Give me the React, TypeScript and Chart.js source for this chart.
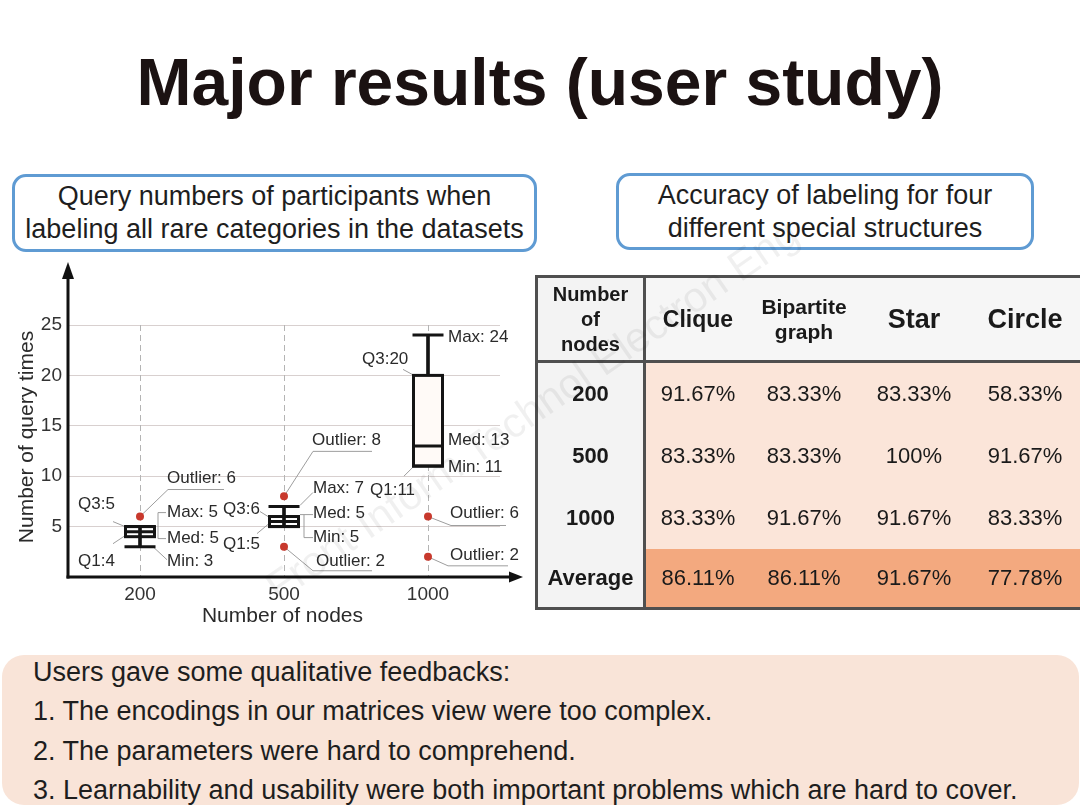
import React, { useEffect, useRef } from 'react';
import { Chart, registerables } from 'chart.js';

Chart.register(...registerables);

const FONT = '"Liberation Sans", Arial, Helvetica, sans-serif';

// ---------- Box plot data (number of query times) ----------
const categories = ['200', '500', '1000'];
const q1Values = [4, 5, 11];
const q3Values = [5, 6, 20];
const medianValues = [4.5, 5.5, 13];
const minValues = [3, 5, 11];
const maxValues = [5, 7, 24];
const outlierCategories = ['200', '500', '500', '1000', '1000'];
const outlierValues = [6, 8, 3, 6, 2];
const yTicks = [5, 10, 15, 20, 25];

// ---------- Accuracy table data ----------
const tableColumns = ['Clique', 'Bipartite graph', 'Star', 'Circle'];
const tableRows = ['200', '500', '1000', 'Average'];
const cliqueAcc = [91.67, 83.33, 83.33, 86.11];
const bipartiteAcc = [83.33, 83.33, 91.67, 86.11];
const starAcc = [83.33, 100, 91.67, 91.67];
const circleAcc = [58.33, 91.67, 83.33, 77.78];

const feedbackLines = [
  'Users gave some qualitative feedbacks:',
  '1. The encodings in our matrices view were too complex.',
  '2. The parameters were hard to comprehend.',
  '3. Learnability and usability were both important problems which are hard to cover.',
];

// ---------- Annotation labels (anchored on data through the scales) ----------
type Note = { text: string; cat: string; value: number; tx: number; ty: number; path?: number[][] };
const notes: Note[] = [
  { text: 'Outlier: 6', cat: '200', value: 6, tx: 27, ty: -38, path: [[0, 0], [28, -27], [84, -27]] },
  { text: 'Q3:5', cat: '200', value: 5, tx: -62, ty: -22, path: [[-27, -5], [-15, 0]] },
  { text: 'Q1:4', cat: '200', value: 4, tx: -62, ty: 25, path: [[-27, 7], [-15, -1]] },
  { text: 'Max: 5', cat: '200', value: 5, tx: 27, ty: -14, path: [[26, -14], [18, -14], [18, 12], [26, 12]] },
  { text: 'Med: 5', cat: '200', value: 5, tx: 27, ty: 12 },
  { text: 'Min: 3', cat: '200', value: 3, tx: 27, ty: 15, path: [[13, 0], [27, 13]] },
  { text: 'Outlier: 8', cat: '500', value: 8, tx: 28, ty: -56, path: [[0, 0], [29, -45], [88, -45]] },
  { text: 'Max: 7', cat: '500', value: 7, tx: 29, ty: -18, path: [[16, -1], [29, -14]] },
  { text: 'Q3:6', cat: '500', value: 6, tx: -61, ty: -7, path: [[-24, -5], [-16, 0]] },
  { text: 'Q1:5', cat: '500', value: 5, tx: -61, ty: 18, path: [[-27, 7], [-15, -3]] },
  { text: 'Med: 5', cat: '500', value: 5, tx: 29, ty: -13, path: [[16, -12], [29, -12]] },
  { text: 'Min: 5', cat: '500', value: 5, tx: 29, ty: 11, path: [[20, -12], [20, 11], [29, 11]] },
  { text: 'Outlier: 2', cat: '500', value: 3, tx: 32, ty: 15, path: [[0, 0], [29, 24], [88, 24]] },
  { text: 'Max: 24', cat: '1000', value: 24, tx: 20, ty: 2 },
  { text: 'Q3:20', cat: '1000', value: 20, tx: -66, ty: -16, path: [[-25, -6], [-14, 0]] },
  { text: 'Med: 13', cat: '1000', value: 13, tx: 20, ty: -6 },
  { text: 'Min: 11', cat: '1000', value: 11, tx: 20, ty: 1 },
  { text: 'Q1:11', cat: '1000', value: 11, tx: -58, ty: 24, path: [[-14, 0], [-24, 10]] },
  { text: 'Outlier: 6', cat: '1000', value: 6, tx: 22, ty: -3, path: [[0, 0], [23, 9], [78, 9]] },
  { text: 'Outlier: 2', cat: '1000', value: 2, tx: 22, ty: -2, path: [[0, 0], [20, 9], [80, 9]] },
];

const INK = '#141414';

const boxPlotDecor = {
  id: 'boxPlotDecor',
  beforeDatasetsDraw(chart: any) {
    const { ctx, chartArea: a, scales } = chart;
    const xs = scales.x;
    const ys = scales.y;
    ctx.save();
    ctx.strokeStyle = '#b4b4b4';
    ctx.lineWidth = 1;
    ctx.setLineDash([6, 4]);
    categories.forEach((_c, i) => {
      const x = Math.round(xs.getPixelForValue(i)) + 0.5;
      ctx.beginPath();
      ctx.moveTo(x, a.top);
      ctx.lineTo(x, a.bottom);
      ctx.stroke();
    });
    ctx.setLineDash([]);
    ctx.strokeStyle = '#9d9d9d';
    ctx.lineWidth = 1;
    notes.forEach((n) => {
      if (!n.path) return;
      const cx = xs.getPixelForValue(categories.indexOf(n.cat));
      const cy = ys.getPixelForValue(n.value);
      ctx.beginPath();
      n.path.forEach(([dx, dy], k) => (k ? ctx.lineTo(cx + dx, cy + dy) : ctx.moveTo(cx + dx, cy + dy)));
      ctx.stroke();
    });
    ctx.restore();
  },
  afterDatasetsDraw(chart: any) {
    const { ctx, chartArea: a, scales } = chart;
    const xs = scales.x;
    const ys = scales.y;
    ctx.save();
    // box outlines, centred on the Q1 / Q3 values of the floating bars
    const boxMeta = chart.getDatasetMeta(1);
    ctx.strokeStyle = INK;
    ctx.lineWidth = 3;
    boxMeta.data.forEach((el: any) => {
      const top = Math.min(el.y, el.base);
      const h = Math.abs(el.base - el.y);
      ctx.strokeRect(el.x - el.width / 2, top, el.width, h);
    });
    // labels
    ctx.font = `17px ${FONT}`;
    ctx.fillStyle = '#2a2a2a';
    ctx.textBaseline = 'middle';
    ctx.textAlign = 'left';
    notes.forEach((n) => {
      const cx = xs.getPixelForValue(categories.indexOf(n.cat));
      const cy = ys.getPixelForValue(n.value);
      ctx.fillText(n.text, cx + n.tx, cy + n.ty);
    });
    // axes with arrows
    ctx.strokeStyle = '#111';
    ctx.fillStyle = '#111';
    ctx.lineWidth = 3;
    const L = a.left;
    const B = a.bottom;
    ctx.beginPath();
    ctx.moveTo(L, B + 1.5);
    ctx.lineTo(L, a.top - 52);
    ctx.stroke();
    ctx.beginPath();
    ctx.moveTo(L, a.top - 63);
    ctx.lineTo(L - 6, a.top - 46);
    ctx.lineTo(L + 6, a.top - 46);
    ctx.closePath();
    ctx.fill();
    ctx.beginPath();
    ctx.moveTo(L - 1.5, B);
    ctx.lineTo(a.right + 12, B);
    ctx.stroke();
    ctx.beginPath();
    ctx.moveTo(a.right + 23, B);
    ctx.lineTo(a.right + 9, B - 5.5);
    ctx.lineTo(a.right + 9, B + 5.5);
    ctx.closePath();
    ctx.fill();
    // axis titles
    ctx.fillStyle = '#2a2a2a';
    ctx.font = `21px ${FONT}`;
    ctx.textAlign = 'center';
    ctx.textBaseline = 'middle';
    ctx.fillText('Number of nodes', (a.left + a.right) / 2 - 1.5, B + 39);
    ctx.translate(a.left - 41, (a.top + a.bottom) / 2 - 14);
    ctx.rotate(-Math.PI / 2);
    ctx.fillText('Number of query times', 0, 0);
    ctx.restore();
  },
};

function BoxChart() {
  const ref = useRef<HTMLCanvasElement>(null);
  useEffect(() => {
    if (!ref.current) return;
    const chart = new Chart(ref.current, {
      type: 'bar',
      data: {
        labels: categories,
        datasets: [
          {
            type: 'bar',
            label: 'Whisker',
            data: categories.map((_c, i) => [minValues[i], maxValues[i]]),
            backgroundColor: INK,
            borderWidth: 0,
            barThickness: 3,
            grouped: false,
            order: 5,
          } as any,
          {
            type: 'bar',
            label: 'Interquartile range',
            data: categories.map((_c, i) => [q1Values[i], q3Values[i]]),
            backgroundColor: ['rgba(0,0,0,0)', 'rgba(0,0,0,0)', '#fffaf7'],
            borderWidth: 0,
            barThickness: 29,
            grouped: false,
            order: 4,
          } as any,
          {
            type: 'line',
            label: 'Whisker caps',
            data: [
              ...categories.map((c, i) => ({ x: c, y: maxValues[i] })),
              ...categories.map((c, i) => ({ x: c, y: minValues[i] })),
            ],
            showLine: false,
            pointStyle: 'line',
            pointRadius: 15.5,
            pointBorderWidth: 3,
            pointBorderColor: INK,
            order: 3,
          } as any,
          {
            type: 'line',
            label: 'Median',
            data: categories.map((c, i) => ({ x: c, y: medianValues[i] })),
            showLine: false,
            pointStyle: 'line',
            pointRadius: 14.5,
            pointBorderWidth: 3,
            pointBorderColor: INK,
            order: 2,
          } as any,
          {
            type: 'line',
            label: 'Outliers',
            data: outlierCategories.map((c, i) => ({ x: c, y: outlierValues[i] })),
            showLine: false,
            pointStyle: 'circle',
            pointRadius: 4,
            pointBorderWidth: 0,
            pointBackgroundColor: '#c8392d',
            order: 1,
          } as any,
        ],
      },
      options: {
        animation: false,
        responsive: false,
        events: [],
        layout: { padding: { left: 0, right: 40, top: 75, bottom: 0 } },
        plugins: { legend: { display: false }, tooltip: { enabled: false } },
        scales: {
          x: {
            type: 'category',
            offset: true,
            afterFit: (s: any) => {
              s.height = 63;
            },
            grid: { display: false, drawTicks: false },
            border: { display: false },
            ticks: { padding: 6, font: { size: 19, family: FONT }, color: '#333' },
          },
          y: {
            type: 'linear',
            min: 0,
            max: 25,
            afterBuildTicks: (s: any) => {
              s.ticks = yTicks.map((v) => ({ value: v }));
            },
            afterFit: (s: any) => {
              s.width = 68;
            },
            grid: { color: '#d8d0cf', lineWidth: 1, drawTicks: false },
            border: { display: false },
            ticks: { padding: 6, font: { size: 19, family: FONT }, color: '#333' },
          },
        },
      } as any,
      plugins: [boxPlotDecor],
    });
    return () => chart.destroy();
  }, []);
  return (
    <canvas
      ref={ref}
      width={540}
      height={390}
      style={{ position: 'absolute', left: 0, top: 250, width: 540, height: 390, display: 'block' }}
    />
  );
}

function AccuracyTable() {
  const columns = [cliqueAcc, bipartiteAcc, starAcc, circleAcc];
  const headerSizes = [23, 21, 27, 27];
  const border = '3px solid #4f4f4f';
  const cell: React.CSSProperties = {
    display: 'flex',
    alignItems: 'center',
    justifyContent: 'center',
    textAlign: 'center',
    boxSizing: 'border-box',
    color: '#1a1a1a',
  };
  const cells: React.ReactNode[] = [];
  cells.push(
    <div key="corner" style={{ ...cell, background: '#f3f3f3', borderRight: border, borderBottom: border, fontWeight: 'bold', fontSize: 20, lineHeight: '25px' }}>
      Number<br />of<br />nodes
    </div>
  );
  tableColumns.forEach((c, j) => {
    const parts = c.split(' ');
    cells.push(
      <div key={'h' + j} style={{ ...cell, background: '#f6f6f6', borderBottom: border, fontWeight: 'bold', fontSize: headerSizes[j], lineHeight: '25px' }}>
        {parts.length > 1 ? (
          <span>
            {parts[0]}
            <br />
            {parts[1]}
          </span>
        ) : (
          c
        )}
      </div>
    );
  });
  tableRows.forEach((r, i) => {
    const isAvg = i === tableRows.length - 1;
    cells.push(
      <div key={'r' + i} style={{ ...cell, background: '#f3f3f3', borderRight: border, fontWeight: 'bold', fontSize: 22 }}>
        {r}
      </div>
    );
    columns.forEach((col, j) => {
      cells.push(
        <div key={'c' + i + '-' + j} style={{ ...cell, background: isAvg ? '#f3a97f' : '#fbe5d9', fontSize: 22 }}>
          {col[i] + '%'}
        </div>
      );
    });
  });
  return (
    <div
      style={{
        position: 'absolute',
        left: 535,
        top: 275,
        width: 548,
        height: 335,
        border,
        boxSizing: 'border-box',
        display: 'grid',
        gridTemplateColumns: '108px 104px 108px 112px 110px',
        gridTemplateRows: '85px 62px 62px 62px 58px',
        fontFamily: FONT,
      }}
    >
      {cells}
    </div>
  );
}

export default function App() {
  const boxStyle: React.CSSProperties = {
    position: 'absolute',
    border: '3px solid #5f9bd3',
    borderRadius: 14,
    boxSizing: 'border-box',
    display: 'flex',
    alignItems: 'center',
    justifyContent: 'center',
    textAlign: 'center',
    fontSize: 27,
    lineHeight: '33px',
    color: '#1e1e1e',
    background: '#fff',
  };
  return (
    <div
      style={{
        position: 'absolute',
        left: 0,
        top: 0,
        width: 1080,
        height: 810,
        overflow: 'hidden',
        background: '#ffffff',
        fontFamily: FONT,
      }}
    >
      <div
        style={{
          position: 'absolute',
          left: 0,
          top: 49,
          width: 1080,
          textAlign: 'center',
          fontSize: 66,
          lineHeight: '66px',
          fontWeight: 'bold',
          color: '#1b1212',
        }}
      >
        Major results (user study)
      </div>
      <div style={{ ...boxStyle, left: 12, top: 174, width: 525, height: 78 }}>
        <div>
          Query numbers of participants when
          <br />
          labeling all rare categories in the datasets
        </div>
      </div>
      <div style={{ ...boxStyle, left: 616, top: 173, width: 418, height: 77 }}>
        <div>
          Accuracy of labeling for four
          <br />
          different special structures
        </div>
      </div>
      <BoxChart />
      <AccuracyTable />
      <div
        style={{
          position: 'absolute',
          left: 2,
          top: 655,
          width: 1077,
          height: 150,
          borderRadius: 22,
          background: '#f9e4d8',
        }}
      />
      <div
        style={{
          position: 'absolute',
          left: 33,
          top: 653,
          fontSize: 27,
          lineHeight: '39.3px',
          color: '#1e1e1e',
          whiteSpace: 'nowrap',
        }}
      >
        {feedbackLines.map((l, i) => (
          <div key={i}>{l}</div>
        ))}
      </div>
      <div
        style={{
          position: 'absolute',
          left: 532 - 340,
          top: 410 - 25,
          width: 680,
          height: 50,
          lineHeight: '50px',
          textAlign: 'center',
          fontSize: 42,
          color: 'rgba(0,0,0,0.06)',
          transform: 'rotate(-34.7deg)',
          pointerEvents: 'none',
          whiteSpace: 'nowrap',
        }}
      >
        Front Inform Technol Electron Eng
      </div>
    </div>
  );
}
